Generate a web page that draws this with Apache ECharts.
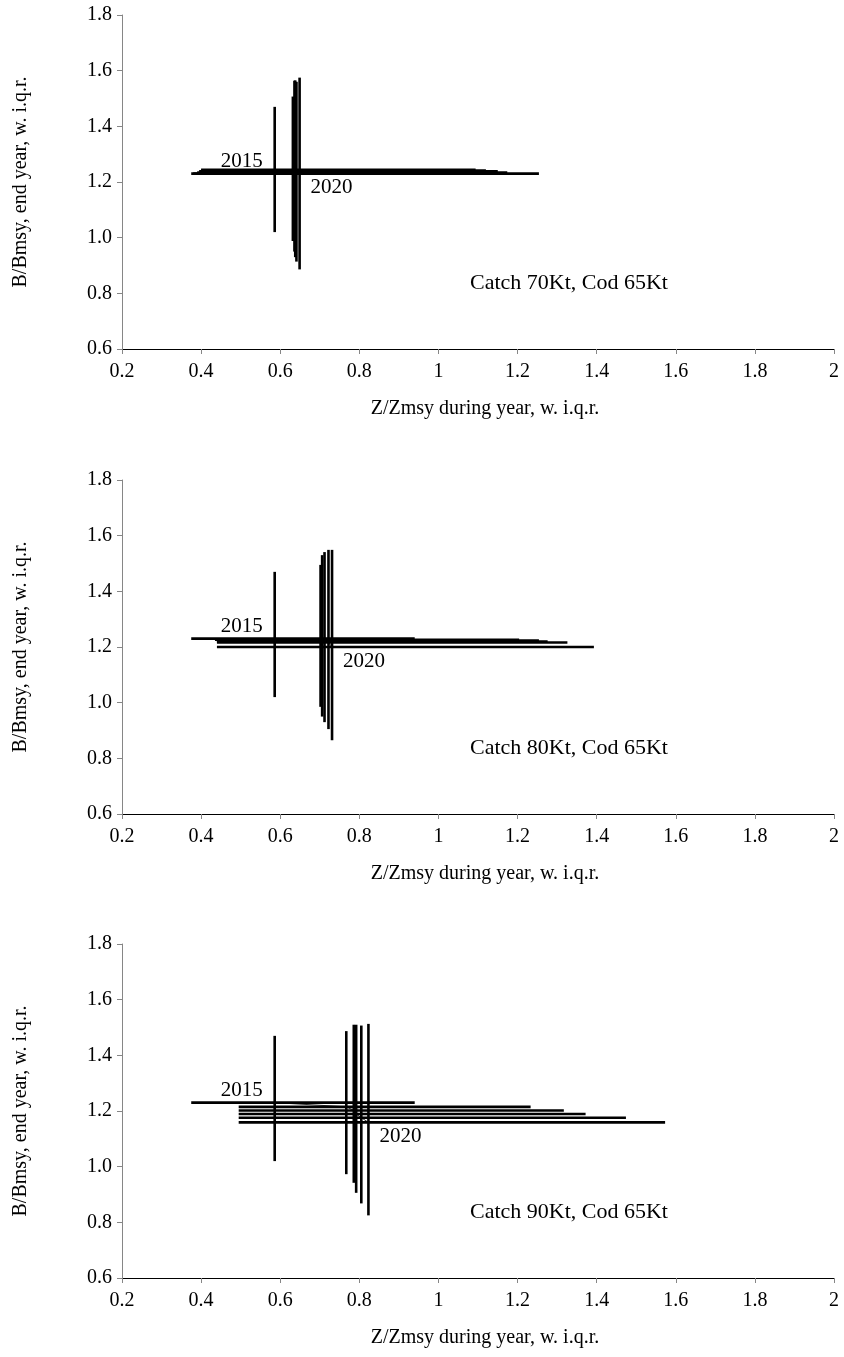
<!DOCTYPE html>
<html>
<head>
<meta charset="utf-8">
<script src="https://cdn.jsdelivr.net/npm/echarts@6/dist/echarts.min.js"></script>
<style>
  html, body { margin: 0; padding: 0; background: #fff; }
</style>
</head>
<body>
<div id="the-chart" style="width: 844px; height: 1357px"></div>
<script>
// years shown in every panel
const years = [2015, 2016, 2017, 2018, 2019, 2020];

// panel 1: Catch 70Kt
const zMed1 = [0.586, 0.632, 0.636, 0.638, 0.641, 0.649];
const zLo1 = [0.375, 0.4, 0.4, 0.395, 0.39, 0.38];
const zHi1 = [0.94, 1.094, 1.12, 1.15, 1.174, 1.254];
const bMed1 = [1.23, 1.244, 1.241, 1.238, 1.234, 1.23];
const bLo1 = [1.02, 0.988, 0.95, 0.93, 0.914, 0.886];
const bHi1 = [1.47, 1.507, 1.564, 1.565, 1.56, 1.575];

// panel 2: Catch 80Kt
const zMed2 = [0.586, 0.702, 0.706, 0.712, 0.722, 0.731];
const zLo2 = [0.375, 0.435, 0.44, 0.44, 0.44, 0.44];
const zHi2 = [0.94, 1.204, 1.254, 1.276, 1.326, 1.393];
const bMed2 = [1.23, 1.226, 1.223, 1.22, 1.216, 1.2];
const bLo2 = [1.02, 0.985, 0.95, 0.93, 0.905, 0.865];
const bHi2 = [1.47, 1.495, 1.53, 1.541, 1.549, 1.549];

// panel 3: Catch 90Kt
const zMed3 = [0.586, 0.767, 0.786, 0.792, 0.805, 0.823];
const zLo3 = [0.375, 0.495, 0.495, 0.495, 0.495, 0.495];
const zHi3 = [0.94, 1.233, 1.317, 1.372, 1.474, 1.573];
const bMed3 = [1.23, 1.215, 1.202, 1.189, 1.176, 1.159];
const bLo3 = [1.02, 0.973, 0.942, 0.906, 0.868, 0.825];
const bHi3 = [1.47, 1.487, 1.51, 1.51, 1.507, 1.513];

const notes = ["Catch 70Kt, Cod 65Kt", "Catch 80Kt, Cod 65Kt", "Catch 90Kt, Cod 65Kt"];
const noteAt = [1.33, 0.835];

const xName = "Z/Zmsy during year, w. i.q.r.";
const yName = "B/Bmsy, end year, w. i.q.r.";

const panels = [
  { zMed: zMed1, zLo: zLo1, zHi: zHi1, bMed: bMed1, bLo: bLo1, bHi: bHi1 },
  { zMed: zMed2, zLo: zLo2, zHi: zHi2, bMed: bMed2, bLo: bLo2, bHi: bHi2 },
  { zMed: zMed3, zLo: zLo3, zHi: zHi3, bMed: bMed3, bLo: bLo3, bHi: bHi3 },
];

const FONT = "Liberation Serif";
const gridTops = [15, 480, 944];

// cross shaped i.q.r. bars around each median
function renderCross(params, api) {
  const zm = api.value(0), bm = api.value(1);
  const zl = api.value(2), zh = api.value(3);
  const bl = api.value(4), bh = api.value(5);
  const h1 = api.coord([zl, bm]), h2 = api.coord([zh, bm]);
  const v1 = api.coord([zm, bl]), v2 = api.coord([zm, bh]);
  const style = { stroke: "#000", lineWidth: 2.6 };
  return {
    type: "group",
    children: [
      { type: "line", shape: { x1: h1[0], y1: h1[1], x2: h2[0], y2: h2[1] }, style: style },
      { type: "line", shape: { x1: v1[0], y1: v1[1], x2: v2[0], y2: v2[1] }, style: style },
    ],
  };
}

const textLabel = (size) => ({
  show: true,
  position: "inside",
  fontFamily: FONT,
  fontSize: size,
  color: "#000",
  opacity: 1,
  textBorderWidth: 0,
  textShadowBlur: 0,
});

const grid = [], xAxis = [], yAxis = [], series = [];

panels.forEach((p, i) => {
  grid.push({ left: 122, right: 10, top: gridTops[i], height: 334 });

  xAxis.push({
    gridIndex: i,
    type: "value",
    min: 0.2,
    max: 2,
    interval: 0.2,
    name: xName,
    nameLocation: "middle",
    nameGap: 50,
    nameTextStyle: { fontFamily: FONT, fontSize: 20, color: "#000", padding: [0, 0, 0, 14] },
    axisLine: { lineStyle: { color: "#000", width: 1 } },
    axisTick: { inside: false, length: 5, lineStyle: { color: "#868686" } },
    axisLabel: { fontFamily: FONT, fontSize: 20, color: "#000", margin: 13 },
    splitLine: { show: false },
  });

  yAxis.push({
    gridIndex: i,
    type: "value",
    min: 0.6,
    max: 1.8,
    interval: 0.2,
    name: yName,
    nameLocation: "middle",
    nameGap: 91,
    nameTextStyle: { fontFamily: FONT, fontSize: 20, color: "#000" },
    axisLine: { show: true, lineStyle: { color: "#868686", width: 1 } },
    axisTick: { show: true, inside: false, length: 5, lineStyle: { color: "#868686" } },
    axisLabel: {
      fontFamily: FONT,
      fontSize: 20,
      color: "#000",
      margin: 10,
      formatter: (v) => v.toFixed(1),
    },
    splitLine: { show: false },
  });

  const crossData = years.map((y, k) => [p.zMed[k], p.bMed[k], p.zLo[k], p.zHi[k], p.bLo[k], p.bHi[k]]);

  series.push({
    type: "custom",
    xAxisIndex: i,
    yAxisIndex: i,
    renderItem: renderCross,
    encode: { x: [0, 2, 3], y: [1, 4, 5] },
    data: crossData,
    silent: true,
  });

  // thin path joining the medians
  series.push({
    type: "line",
    xAxisIndex: i,
    yAxisIndex: i,
    data: years.map((y, k) => [p.zMed[k], p.bMed[k]]),
    showSymbol: false,
    lineStyle: { color: "#000", width: 0.8 },
    silent: true,
  });

  // first and last year labels
  const last = years.length - 1;
  series.push({
    type: "scatter",
    xAxisIndex: i,
    yAxisIndex: i,
    symbolSize: 1,
    itemStyle: { color: "transparent", opacity: 1 },
    label: Object.assign(textLabel(21), { formatter: (d) => d.name }),
    data: [
      { name: String(years[0]), value: [p.zMed[0], p.bMed[0]], label: { offset: [-33, -12] } },
      { name: String(years[last]), value: [p.zMed[last], p.bMed[last]], label: { offset: [32, 14] } },
    ],
    silent: true,
  });

  // scenario note
  series.push({
    type: "scatter",
    xAxisIndex: i,
    yAxisIndex: i,
    symbolSize: 1,
    itemStyle: { color: "transparent", opacity: 1 },
    label: Object.assign(textLabel(22), { formatter: notes[i] }),
    data: [noteAt],
    silent: true,
  });
});

const myChart = echarts.init(document.getElementById("the-chart"), null, { renderer: "canvas" });
const option = {
  animation: false,
  backgroundColor: "#fff",
  grid: grid,
  xAxis: xAxis,
  yAxis: yAxis,
  series: series,
};
option && myChart.setOption(option);
</script>
</body>
</html>
